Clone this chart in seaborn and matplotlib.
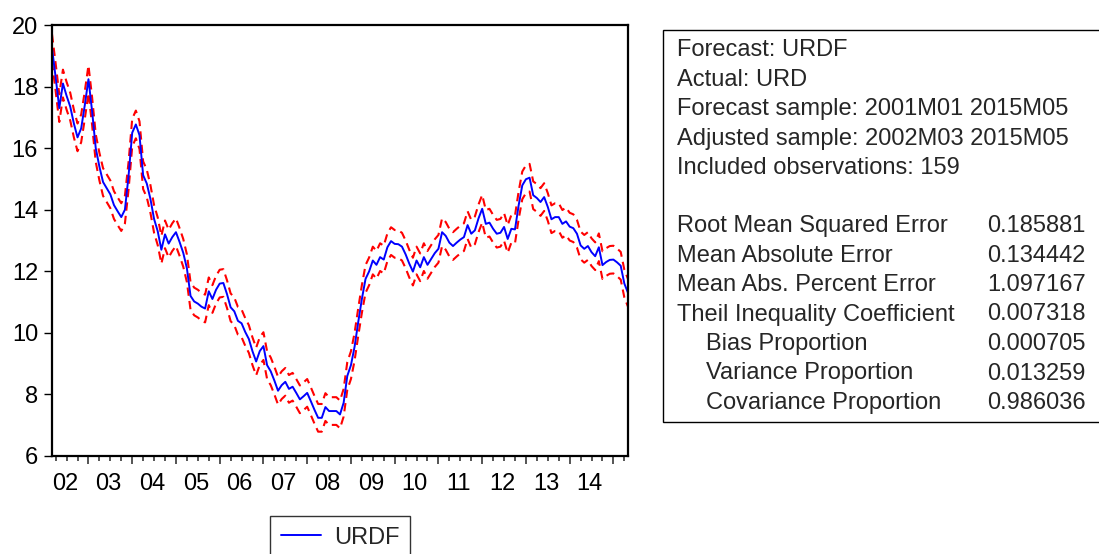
import numpy as np
import pandas as pd
import matplotlib
matplotlib.use("Agg")
import matplotlib.pyplot as plt
import matplotlib.patches as mpatches
import seaborn as sns

# ---- data (monthly, 2002M03 .. 2015M05) ----
start_period = "2002-03"
urdf = [
    19.25, 18.30, 17.30, 18.10, 17.70, 17.35, 16.80, 16.35, 16.64, 17.40,
    18.24, 17.20, 16.00, 15.40, 14.90, 14.70, 14.50, 14.15, 13.95, 13.76,
    14.00, 15.10, 16.50, 16.77, 16.42, 15.12, 14.85, 14.35, 13.70, 13.30,
    12.70, 13.20, 12.90, 13.11, 13.27, 12.95, 12.60, 12.10, 11.20, 11.02,
    10.95, 10.85, 10.79, 11.35, 11.10, 11.40, 11.60, 11.62, 11.26, 10.83,
    10.70, 10.39, 10.31, 10.03, 9.80, 9.40, 9.07, 9.41, 9.57, 8.95,
    8.75, 8.45, 8.12, 8.30, 8.41, 8.18, 8.25, 8.05, 7.84, 7.94,
    8.05, 7.78, 7.50, 7.24, 7.24, 7.59, 7.46, 7.46, 7.46, 7.35,
    7.73, 8.60, 8.95, 9.55, 10.35, 11.10, 11.75, 12.00, 12.35, 12.21,
    12.46, 12.38, 12.78, 12.98, 12.89, 12.88, 12.80, 12.55, 12.25, 11.99,
    12.35, 12.13, 12.46, 12.21, 12.40, 12.59, 12.73, 13.27, 13.15, 12.93,
    12.82, 12.93, 13.03, 13.11, 13.50, 13.22, 13.33, 13.72, 14.03, 13.54,
    13.58, 13.38, 13.22, 13.25, 13.44, 13.05, 13.38, 13.36, 14.14, 14.79,
    14.99, 15.04, 14.47, 14.38, 14.25, 14.41, 14.09, 13.69, 13.76, 13.76,
    13.54, 13.62, 13.45, 13.40, 13.22, 12.84, 12.73, 12.82, 12.62, 12.49,
    12.78, 12.20, 12.30, 12.37, 12.38, 12.29, 12.18, 11.60, 11.30,
]
forecast_se = 0.225  # S.E. of forecast; bands are +/- 2 S.E.
year_labels = ["02", "03", "04", "05", "06", "07", "08", "09", "10", "11", "12", "13", "14"]
y_ticks = [6, 8, 10, 12, 14, 16, 18, 20]

info_lines = [
    "Forecast: URDF",
    "Actual: URD",
    "Forecast sample: 2001M01 2015M05",
    "Adjusted sample: 2002M03 2015M05",
    "Included observations: 159",
]
stat_names = [
    "Root Mean Squared Error",
    "Mean Absolute Error",
    "Mean Abs. Percent Error",
    "Theil Inequality Coefficient",
    "   Bias Proportion",
    "   Variance Proportion",
    "   Covariance Proportion",
]
stat_values = ["0.185881", "0.134442", "1.097167", "0.007318", "0.000705", "0.013259", "0.986036"]

# ---- build frame ----
months = pd.period_range(start=start_period, periods=len(urdf), freq="M")
df = pd.DataFrame({
    "t": np.arange(len(urdf)),
    "urdf": urdf,
})
df["upper"] = df["urdf"] + 2 * forecast_se
df["lower"] = df["urdf"] - 2 * forecast_se

sns.set_style("ticks")
FONT = ["Liberation Sans", "DejaVu Sans"]
plt.rcParams["font.family"] = FONT

W, H = 1099, 554
fig = plt.figure(figsize=(W / 100, H / 100), dpi=100)

def fx(px):
    return px / W

def fy(py):
    return 1 - py / H

ax = fig.add_axes([fx(52), fy(456), fx(628) - fx(52), fy(25) - fy(456)])

sns.lineplot(data=df, x="t", y="upper", ax=ax, color="#ff0000", lw=1.5,
             linestyle=(0, (4, 2.5)), legend=False)
sns.lineplot(data=df, x="t", y="lower", ax=ax, color="#ff0000", lw=1.5,
             linestyle=(0, (4, 2.5)), legend=False)
sns.lineplot(data=df, x="t", y="urdf", ax=ax, color="#0000ff", lw=1.4, legend=False)

ax.set_xlim(0, len(urdf) - 1)
ax.set_ylim(6, 20)
ax.set_xlabel("")
ax.set_ylabel("")

for s in ax.spines.values():
    s.set_visible(True)
    s.set_color("black")
    s.set_linewidth(1.6)

ax.set_yticks(y_ticks)
ax.set_yticklabels([str(v) for v in y_ticks])
ax.tick_params(axis="y", direction="out", length=6, width=1, pad=4,
               labelsize=17, colors="black")

# January positions and quarter positions
jan_pos = [i for i, m in enumerate(months) if m.month == 1]
qtr_pos = [i for i, m in enumerate(months) if m.month in (1, 4, 7, 10)]
label_pos = [12 * k - 2 + 5.5 for k in range(len(year_labels))]

ax.set_xticks(label_pos)
ax.set_xticklabels(year_labels)
ax.tick_params(axis="x", length=0, pad=12, labelsize=17, colors="black")

sec = ax.secondary_xaxis("bottom")
sec.set_xticks(jan_pos)
sec.set_xticklabels([])
sec.set_xticks(qtr_pos, minor=True)
sec.tick_params(axis="x", which="major", length=6, width=1.1, direction="out")
sec.tick_params(axis="x", which="minor", length=3.5, width=1.1, direction="out")
sec.spines["bottom"].set_visible(False)

# legend
handle = ax.get_lines()[-1]
leg = fig.legend([handle], ["URDF"], loc="upper center",
                 bbox_to_anchor=(fx(340), fy(516)), frameon=True,
                 fancybox=False, edgecolor="black", fontsize=17,
                 handlelength=1.7, handletextpad=0.55, borderpad=0.45,
                 borderaxespad=0)
leg.get_frame().set_linewidth(1.0)

# statistics box
rect = mpatches.Rectangle((fx(663), fy(422)), fx(1110) - fx(663), fy(30) - fy(422),
                          transform=fig.transFigure, facecolor="white",
                          edgecolor="black", lw=1.0, clip_on=False)
fig.patches.append(rect)

y0 = 50
step = 29.6
for i, line in enumerate(info_lines):
    fig.text(fx(677), fy(y0 + i * step), line, fontsize=17, va="center", ha="left")

ys = 226
for i, (name, val) in enumerate(zip(stat_names, stat_values)):
    y = ys + i * 29.5
    if name.startswith("   "):
        fig.text(fx(706), fy(y), name.strip(), fontsize=17, va="center", ha="left")
    else:
        fig.text(fx(677), fy(y), name, fontsize=17, va="center", ha="left")
    fig.text(fx(987), fy(y), val, fontsize=17, va="center", ha="left")

fig.savefig("out.png", dpi=100)
